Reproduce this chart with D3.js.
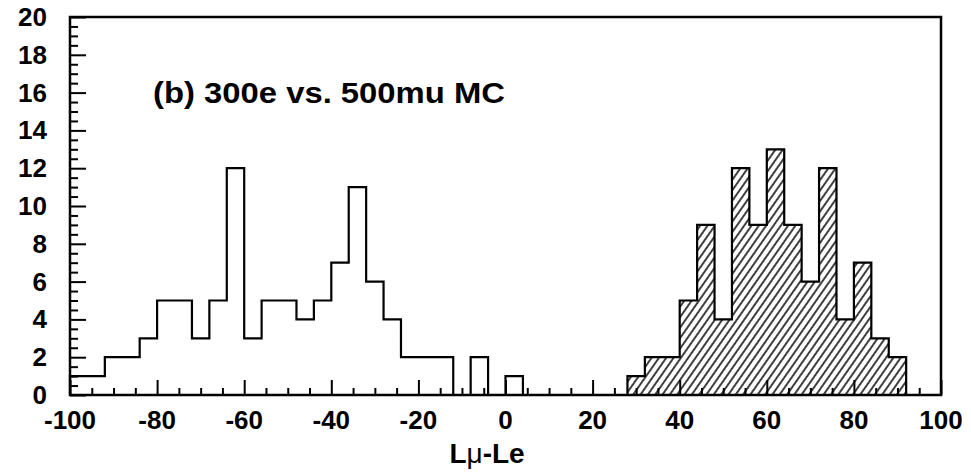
<!DOCTYPE html>
<html>
<head>
<meta charset="utf-8">
<script src="https://cdn.jsdelivr.net/npm/d3@7"></script>
<style>
  body { margin: 0; background: #fff; }
  text { font-family: "Liberation Sans", Arial, sans-serif; font-weight: bold; fill: #000; }
</style>
</head>
<body>
<div id="chart"></div>
<script>
// bin lower edges (width 4) and counts
const binWidth = 4;
const eBins = [-100, -96, -92, -88, -84, -80, -76, -72, -68, -64, -60, -56, -52, -48, -44, -40,
               -36, -32, -28, -24, -20, -16, -12, -8, -4, 0, 4, 8, 12, 16, 20, 24];
const eCounts = [1, 1, 2, 2, 3, 5, 5, 3, 5, 12, 3, 5, 5, 4, 5, 7,
                 11, 6, 4, 2, 2, 2, 0, 2, 0, 1, 0, 0, 0, 0, 0, 0];
const muBins = [28, 32, 36, 40, 44, 48, 52, 56, 60, 64, 68, 72, 76, 80, 84, 88];
const muCounts = [1, 2, 2, 5, 9, 4, 12, 9, 13, 9, 6, 12, 4, 7, 3, 2];
const xTicks = [-100, -80, -60, -40, -20, 0, 20, 40, 60, 80, 100];
const yTicks = [0, 2, 4, 6, 8, 10, 12, 14, 16, 18, 20];

const W = 971, H = 472;
const margin = {left: 70, top: 17, right: 30, bottom: 77};

const svg = d3.select('#chart').append('svg')
    .attr('width', W)
    .attr('height', H);

const x = d3.scaleLinear().domain([-100, 100]).range([margin.left, W - margin.right]);
const y = d3.scaleLinear().domain([0, 20]).range([H - margin.bottom, margin.top]);

// hatch pattern
const pat = svg.append('defs').append('pattern')
    .attr('id', 'hatch')
    .attr('patternUnits', 'userSpaceOnUse')
    .attr('width', 6)
    .attr('height', 10)
    .attr('patternTransform', 'rotate(35)');
pat.append('line')
    .attr('x1', 1).attr('y1', 0).attr('x2', 1).attr('y2', 10)
    .style('stroke', '#000')
    .style('stroke-width', 1.5);

// histogram points (step after, closing edge added)
function steps(bins, counts) {
  const pts = bins.map((b, i) => [b, counts[i]]);
  pts.push([bins[bins.length - 1] + binWidth, counts[counts.length - 1]]);
  return pts;
}

const area = d3.area()
    .curve(d3.curveStepAfter)
    .x(d => x(d[0]))
    .y0(y(0))
    .y1(d => y(d[1]));

const line = d3.line()
    .curve(d3.curveStepAfter)
    .x(d => x(d[0]))
    .y(d => y(d[1]));

// hatched mu histogram
const muPts = steps(muBins, muCounts);
svg.append('path')
    .attr('d', area(muPts))
    .style('fill', 'url(#hatch)')
    .style('stroke', '#000')
    .style('stroke-width', 2.2);

// open e histogram
const ePts = [[eBins[0], 0]].concat(steps(eBins, eCounts));
svg.append('path')
    .attr('d', line(ePts))
    .style('fill', 'none')
    .style('stroke', '#000')
    .style('stroke-width', 2.2);

// axes, ticks drawn inside the frame
const xAxis = d3.axisTop(x)
    .tickValues(d3.range(-100, 101, 5))
    .tickSize(7)
    .tickFormat('');
const gx = svg.append('g')
    .attr('transform', `translate(0, ${y(0)})`)
    .call(xAxis);
gx.selectAll('.tick line')
    .filter(d => d % 20 === 0)
    .attr('y2', -15);

const yAxis = d3.axisRight(y)
    .tickValues(d3.range(0, 20.01, 0.5))
    .tickSize(8)
    .tickFormat('');
const gy = svg.append('g')
    .attr('transform', `translate(${x(-100)}, 0)`)
    .call(yAxis);
gy.selectAll('.tick line')
    .filter(d => d % 2 === 0)
    .attr('x2', 16);

svg.selectAll('.domain').remove();
svg.selectAll('.tick line').style('stroke', '#000').style('stroke-width', 2);

// frame
svg.append('rect')
    .attr('x', x(-100))
    .attr('y', y(20))
    .attr('width', x(100) - x(-100))
    .attr('height', y(0) - y(20))
    .style('fill', 'none')
    .style('stroke', '#000')
    .style('stroke-width', 2.5);

// tick labels
svg.selectAll('.xlab')
    .data(xTicks)
  .enter().append('text')
    .attr('class', 'xlab')
    .attr('x', d => x(d))
    .attr('y', y(0) + 34)
    .attr('text-anchor', 'middle')
    .style('font-size', '26px')
    .text(d => d);

svg.selectAll('.ylab')
    .data(yTicks)
  .enter().append('text')
    .attr('class', 'ylab')
    .attr('x', 47)
    .attr('y', d => y(d) + 9)
    .attr('text-anchor', 'end')
    .style('font-size', '26px')
    .text(d => d);

// axis title
const xt = svg.append('text')
    .attr('x', 487)
    .attr('y', 463)
    .attr('text-anchor', 'middle')
    .style('font-size', '28px');
xt.append('tspan').text('L');
xt.append('tspan').style('font-weight', 'normal').text('μ');
xt.append('tspan').text('-Le');

// label inside the plot
svg.append('text')
    .attr('x', 153)
    .attr('y', 103)
    .attr('textLength', 352)
    .attr('lengthAdjust', 'spacingAndGlyphs')
    .style('font-size', '29px')
    .text('(b) 300e vs. 500mu MC');
</script>
</body>
</html>
